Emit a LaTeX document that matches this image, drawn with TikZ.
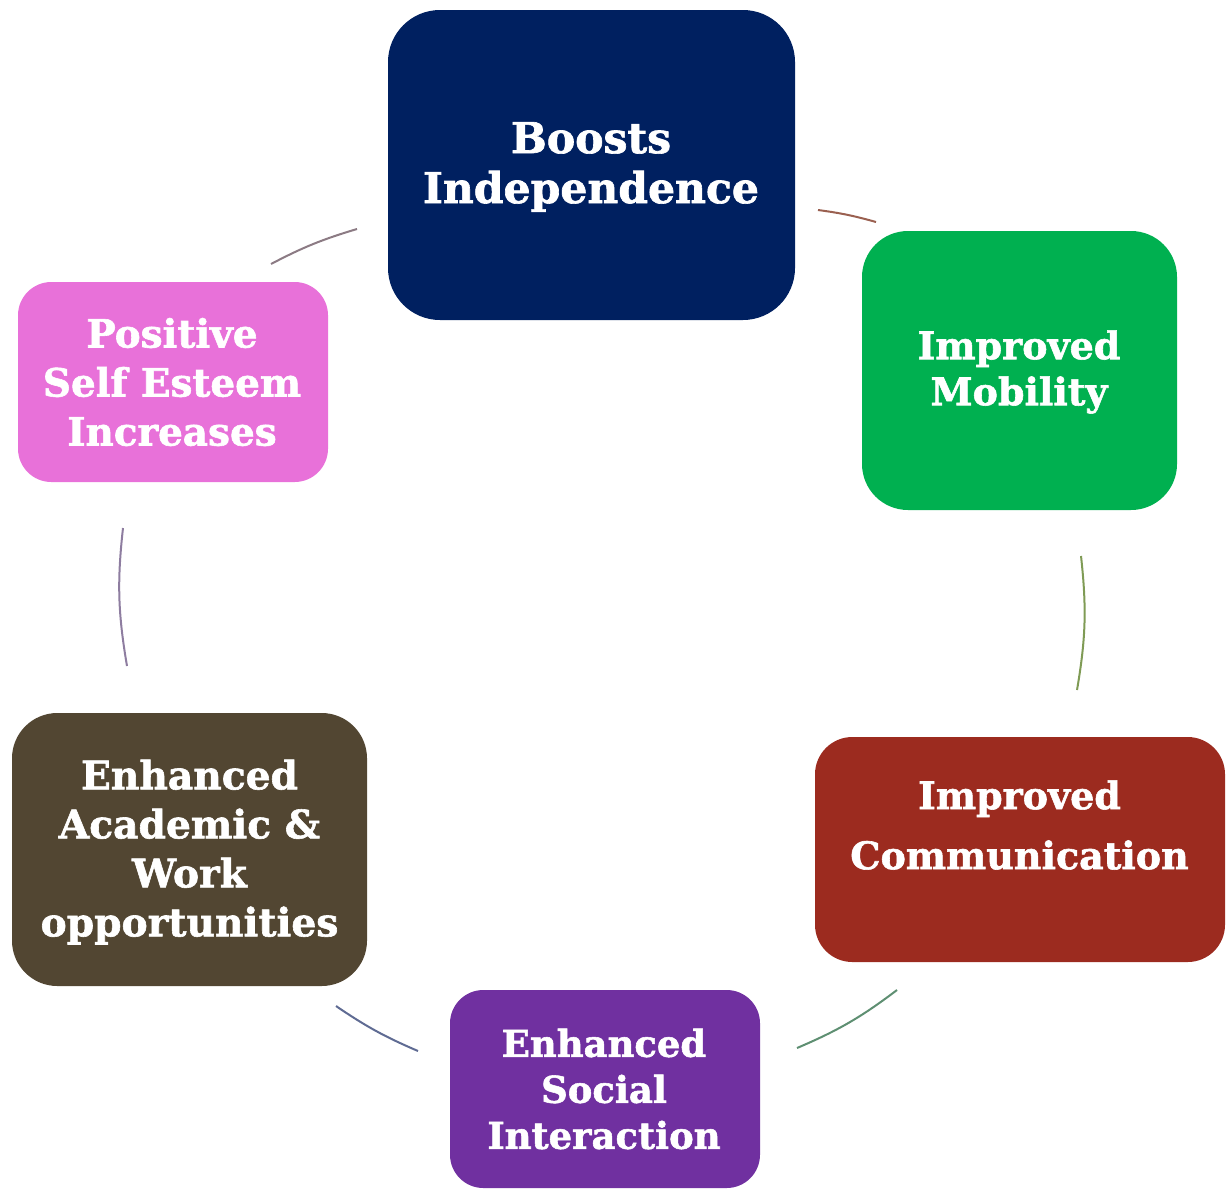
\documentclass[tikz,border=0pt]{standalone}
\usepackage{fontspec}
\setmainfont{DejaVu Serif}[BoldFeatures={FakeBold=1.5}]
\definecolor{cIndep}{HTML}{002060}
\definecolor{cMob}{HTML}{00B050}
\definecolor{cComm}{HTML}{9C2B1F}
\definecolor{cSoc}{HTML}{7030A0}
\definecolor{cAcad}{HTML}{524632}
\definecolor{cPos}{HTML}{E871D9}
\definecolor{aTL}{HTML}{8C7B84}
\definecolor{aTR}{HTML}{9A6050}
\definecolor{aR}{HTML}{7F9B55}
\definecolor{aBR}{HTML}{5E8F72}
\definecolor{aBL}{HTML}{5F6B93}
\definecolor{aL}{HTML}{8E7DA0}
\begin{document}
\begin{tikzpicture}[x=0.75pt,y=-0.75pt,
  box/.style={draw=none, rectangle, inner sep=0pt},
  lbl/.style={text=white, align=center, inner sep=0pt},
  arcline/.style={line width=1.5pt}]
\useasboundingbox (0,0) rectangle (1230,1189);
% boxes
\node[box, fill=cIndep, minimum width=305.25pt, minimum height=232.5pt, rounded corners=39pt] (indep) at (591.5,165) {};
\node[box, fill=cMob, minimum width=236.25pt, minimum height=209.25pt, rounded corners=34.5pt] (mob) at (1019.5,370.5) {};
\node[box, fill=cComm, minimum width=307.5pt, minimum height=168.75pt, rounded corners=28pt] (comm) at (1020,849.5) {};
\node[box, fill=cSoc, minimum width=232.5pt, minimum height=148.5pt, rounded corners=25pt] (soc) at (605,1089) {};
\node[box, fill=cAcad, minimum width=266.25pt, minimum height=204.75pt, rounded corners=34pt] (acad) at (189.5,849.5) {};
\node[box, fill=cPos, minimum width=232.5pt, minimum height=150pt, rounded corners=25pt] (pos) at (173,382) {};
% labels
\node[lbl, font=\bfseries\fontsize{31.9}{37.5}\selectfont] (tIndep) at (591,167) {Boosts\\Independence};
\node[lbl, font=\bfseries\fontsize{28.5}{34.5}\selectfont] (tMob) at (1019,372) {Improved\\Mobility};
\node[lbl, font=\bfseries\fontsize{28.5}{45}\selectfont] (tComm) at (1019.5,825) {Improved\\Communication};
\node[lbl, font=\bfseries\fontsize{27.7}{34.5}\selectfont] (tSoc) at (604,1089) {Enhanced\\Social\\Interaction};
\node[lbl, font=\bfseries\fontsize{29.4}{36.75}\selectfont] (tAcad) at (189.5,852) {Enhanced\\Academic \&\\Work\\opportunities};
\node[lbl, font=\bfseries\fontsize{29.2}{36.75}\selectfont] (tPos) at (172,382) {Positive\\Self Esteem\\Increases};
% arc end points
\coordinate (trS) at (818,210); \coordinate (trE) at (876,222);
\coordinate (rS) at (1081,556); \coordinate (rE) at (1077,690);
\coordinate (brS) at (897,990); \coordinate (brE) at (797,1048);
\coordinate (blS) at (418,1051); \coordinate (blE) at (336,1006);
\coordinate (lS) at (127,666); \coordinate (lE) at (123,528);
\coordinate (tlS) at (271,264); \coordinate (tlE) at (357,229);
\draw[arcline, aTR] (trS) to[bend left=4] (trE);
\draw[arcline, aR] (rS) to[bend left=8] (rE);
\draw[arcline, aBR] (brS) to[bend left=7] (brE);
\draw[arcline, aBL] (blS) to[bend left=5.5] (blE);
\draw[arcline, aL] (lS) to[bend left=8] (lE);
\draw[arcline, aTL] (tlS) to[bend left=5.5] (tlE);
\end{tikzpicture}
\end{document}
